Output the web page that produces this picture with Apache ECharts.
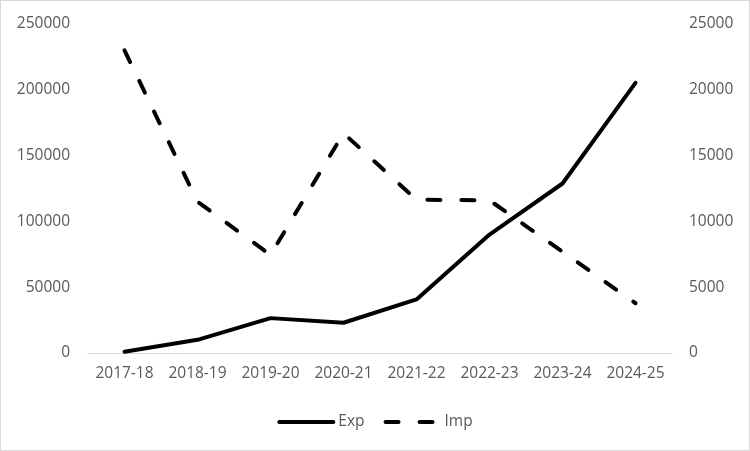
<!DOCTYPE html>
<html>
<head>
<meta charset="utf-8">
<script src="https://cdn.jsdelivr.net/npm/echarts@6/dist/echarts.min.js"></script>
<style>
html,body{margin:0;padding:0;background:#fff;}
#c{width:748px;height:449px;border:1px solid #d9d9d9;}
</style>
</head>
<body>
<div id="c"></div>
<script>
var categories = ['2017-18','2018-19','2019-20','2020-21','2021-22','2022-23','2023-24','2024-25'];
var expValues = [1000, 10000, 26500, 23000, 40700, 90000, 128800, 205300];
var impValues = [23000, 11500, 7450, 16700, 11650, 11600, 7700, 3780];
var leftTicks = {min: 0, max: 250000, interval: 50000};
var rightTicks = {min: 0, max: 25000, interval: 5000};

var chart = echarts.init(document.getElementById('c'));
var labelStyle = {color: '#595959', fontSize: 15.5, fontFamily: 'Open Sans'};
function plain(v) { return String(v); }
chart.setOption({
  animation: false,
  grid: {left: 87, right: 77, top: 23, bottom: 97},
  legend: {
    data: ['Exp', 'Imp'],
    bottom: 15,
    left: 'center',
    itemWidth: 54,
    itemHeight: 10,
    itemGap: 19,
    itemStyle: {opacity: 0},
    lineStyle: {width: 4, cap: 'round'},
    textStyle: {color: '#595959', fontSize: 15.5, fontFamily: 'Open Sans'}
  },
  xAxis: {
    type: 'category',
    data: categories,
    boundaryGap: true,
    axisTick: {show: false},
    axisLine: {lineStyle: {color: '#d9d9d9', width: 1}},
    axisLabel: Object.assign({margin: 13, interval: 0}, labelStyle)
  },
  yAxis: [
    {
      type: 'value', min: leftTicks.min, max: leftTicks.max, interval: leftTicks.interval,
      splitLine: {show: false}, axisLine: {show: false}, axisTick: {show: false},
      axisLabel: Object.assign({margin: 18, formatter: plain}, labelStyle)
    },
    {
      type: 'value', min: rightTicks.min, max: rightTicks.max, interval: rightTicks.interval,
      splitLine: {show: false}, axisLine: {show: false}, axisTick: {show: false},
      axisLabel: Object.assign({margin: 17, formatter: plain}, labelStyle)
    }
  ],
  series: [
    {
      name: 'Exp', type: 'line', yAxisIndex: 0, data: expValues,
      symbol: 'none', itemStyle: {color: '#000'},
      lineStyle: {color: '#000', width: 4, cap: 'round', join: 'round'}
    },
    {
      name: 'Imp', type: 'line', yAxisIndex: 1, data: impValues,
      symbol: 'none', itemStyle: {color: '#000'},
      lineStyle: {color: '#000', width: 4, type: [13, 21], cap: 'round', join: 'round'}
    }
  ]
});
</script>
</body>
</html>
